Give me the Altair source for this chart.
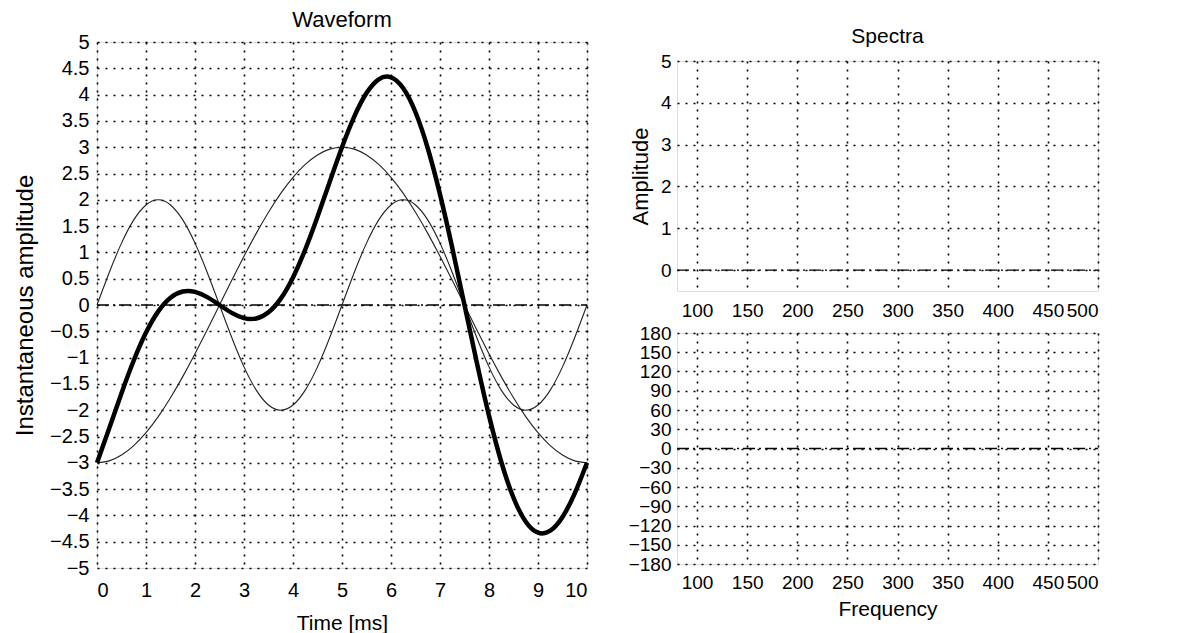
import altair as alt
import pandas as pd

# ---- data ----
time_ms = [0.0, 0.25, 0.5, 0.75, 1.0, 1.25, 1.5, 1.75, 2.0, 2.25, 2.5, 2.75, 3.0, 3.25, 3.5, 3.75,
           4.0, 4.25, 4.5, 4.75, 5.0, 5.25, 5.5, 5.75, 6.0, 6.25, 6.5, 6.75, 7.0, 7.25, 7.5, 7.75,
           8.0, 8.25, 8.5, 8.75, 9.0, 9.25, 9.5, 9.75, 10.0]
slow_wave = [-3.0, -2.963, -2.853, -2.673, -2.427, -2.121, -1.763, -1.362, -0.927, -0.469, 0.0,
             0.469, 0.927, 1.362, 1.763, 2.121, 2.427, 2.673, 2.853, 2.963, 3.0, 2.963, 2.853,
             2.673, 2.427, 2.121, 1.763, 1.362, 0.927, 0.469, 0.0, -0.469, -0.927, -1.362,
             -1.763, -2.121, -2.427, -2.673, -2.853, -2.963, -3.0]
fast_wave = [0.0, 0.618, 1.176, 1.618, 1.902, 2.0, 1.902, 1.618, 1.176, 0.618, 0.0, -0.618,
             -1.176, -1.618, -1.902, -2.0, -1.902, -1.618, -1.176, -0.618, 0.0, 0.618, 1.176,
             1.618, 1.902, 2.0, 1.902, 1.618, 1.176, 0.618, 0.0, -0.618, -1.176, -1.618, -1.902,
             -2.0, -1.902, -1.618, -1.176, -0.618, 0.0]
sum_wave = [-3.0, -2.345, -1.677, -1.055, -0.525, -0.121, 0.139, 0.256, 0.249, 0.149, 0.0,
            -0.149, -0.249, -0.256, -0.139, 0.121, 0.525, 1.055, 1.677, 2.345, 3.0, 3.581, 4.029,
            4.291, 4.329, 4.121, 3.665, 2.980, 2.103, 1.087, 0.0, -1.087, -2.103, -2.980, -3.665,
            -4.121, -4.329, -4.291, -4.029, -3.581, -3.0]

amp_ticks = [-5, -4.5, -4, -3.5, -3, -2.5, -2, -1.5, -1, -0.5, 0, 0.5, 1, 1.5, 2, 2.5, 3, 3.5, 4, 4.5, 5]
time_ticks = [0, 1, 2, 3, 4, 5, 6, 7, 8, 9, 10]
freq_ticks = [100, 150, 200, 250, 300, 350, 400, 450, 500]
spec_amp_ticks = [0, 1, 2, 3, 4, 5]
phase_ticks = [-180, -150, -120, -90, -60, -30, 0, 30, 60, 90, 120, 150, 180]
freq_range = [80, 500]
zero_level = [0, 0]
spectra_title = ["Spectra"]

FONT = "Liberation Sans"
GRID_DASH = [2, 6]
ZERO_DASH = [12, 4, 2, 4]

waves = pd.DataFrame({
    "t": time_ms * 3,
    "v": slow_wave + fast_wave + sum_wave,
    "s": ["slow"] * len(time_ms) + ["fast"] * len(time_ms) + ["sum"] * len(time_ms),
})
thin = waves[waves.s != "sum"]
thick = waves[waves.s == "sum"]
zero_t = pd.DataFrame({"t": [0, 10], "v": zero_level})
zero_f = pd.DataFrame({"f": freq_range, "v": zero_level})


def ax(values, title=None, fmt=None, **kw):
    d = dict(values=values, grid=True, gridDash=GRID_DASH, gridColor="black", gridOpacity=1,
             gridWidth=1.6, ticks=False, domain=False, labelFont=FONT, labelFontSize=20,
             labelColor="black", labelPadding=8, labelOverlap=False, titleFont=FONT,
             titleFontSize=22, titleFontWeight="normal", titleColor="black")
    d["title"] = title
    if fmt is not None:
        d["format"] = fmt
    d.update(kw)
    return alt.Axis(**d)


xt = alt.X("t:Q", scale=alt.Scale(domain=[0, 10], nice=False),
           axis=ax(time_ticks, "Time [ms]", "d", labelPadding=12, titlePadding=12, titleFontSize=21))
yt = alt.Y("v:Q", scale=alt.Scale(domain=[-5, 5], nice=False),
           axis=ax(amp_ticks, "Instantaneous amplitude", ".1~f", titleFontSize=24, titlePadding=12))

left_zero = alt.Chart(zero_t).mark_line(color="black", strokeWidth=1.3, strokeDash=ZERO_DASH).encode(x=xt, y=yt)
left_thin = alt.Chart(thin).mark_line(color="#222222", strokeWidth=1.1, interpolate="natural").encode(
    x=xt, y=yt, detail="s:N")
left_thick = alt.Chart(thick).mark_line(color="black", strokeWidth=4.5, interpolate="natural").encode(x=xt, y=yt)

left = alt.layer(left_zero, left_thin, left_thick).properties(
    width=490, height=526,
    title=alt.TitleParams("Waveform", font=FONT, fontSize=22, fontWeight="normal", color="black", offset=0))

# spacer carrying the "Spectra" heading
spacer = alt.Chart(pd.DataFrame({"label": spectra_title})).mark_text(
    font=FONT, fontSize=21, color="black", align="center", baseline="alphabetic").encode(
    text="label:N", x=alt.value(210.5), y=alt.value(1)).properties(
    width=421, height=8, view=alt.ViewBackground(stroke="transparent"))

xf_top = alt.X("f:Q", scale=alt.Scale(domain=[80, 500], nice=False),
               axis=ax(freq_ticks, None, "d", labelFontSize=19, labelPadding=10))
yf_top = alt.Y("v:Q", scale=alt.Scale(domain=[-0.5, 5], nice=False),
               axis=ax(spec_amp_ticks, "Amplitude", "d", labelFontSize=19, labelPadding=6, titlePadding=8))
top = alt.Chart(zero_f).mark_line(color="black", strokeWidth=1.3, strokeDash=ZERO_DASH).encode(
    x=xf_top, y=yf_top).properties(width=421, height=230)

xf_bot = alt.X("f:Q", scale=alt.Scale(domain=[80, 500], nice=False),
               axis=ax(freq_ticks, "Frequency", "d", labelFontSize=19, labelPadding=9,
                       titleFontSize=21, titlePadding=6))
yf_bot = alt.Y("v:Q", scale=alt.Scale(domain=[-180, 180], nice=False),
               axis=ax(phase_ticks, None, "d", labelFontSize=19, labelPadding=6))
bottom = alt.Chart(zero_f).mark_line(color="black", strokeWidth=1.3, strokeDash=ZERO_DASH).encode(
    x=xf_bot, y=yf_bot).properties(width=421, height=231)

right = alt.vconcat(spacer, alt.vconcat(top, bottom, spacing=2), spacing=0)

chart = alt.hconcat(left, right, spacing=30).configure_view(
    stroke="black", strokeWidth=2).configure(
    background="white", padding={"left": 5, "top": 0, "right": 5, "bottom": 0})

chart.save("out.html", embed_options={"renderer": "svg", "actions": False})
